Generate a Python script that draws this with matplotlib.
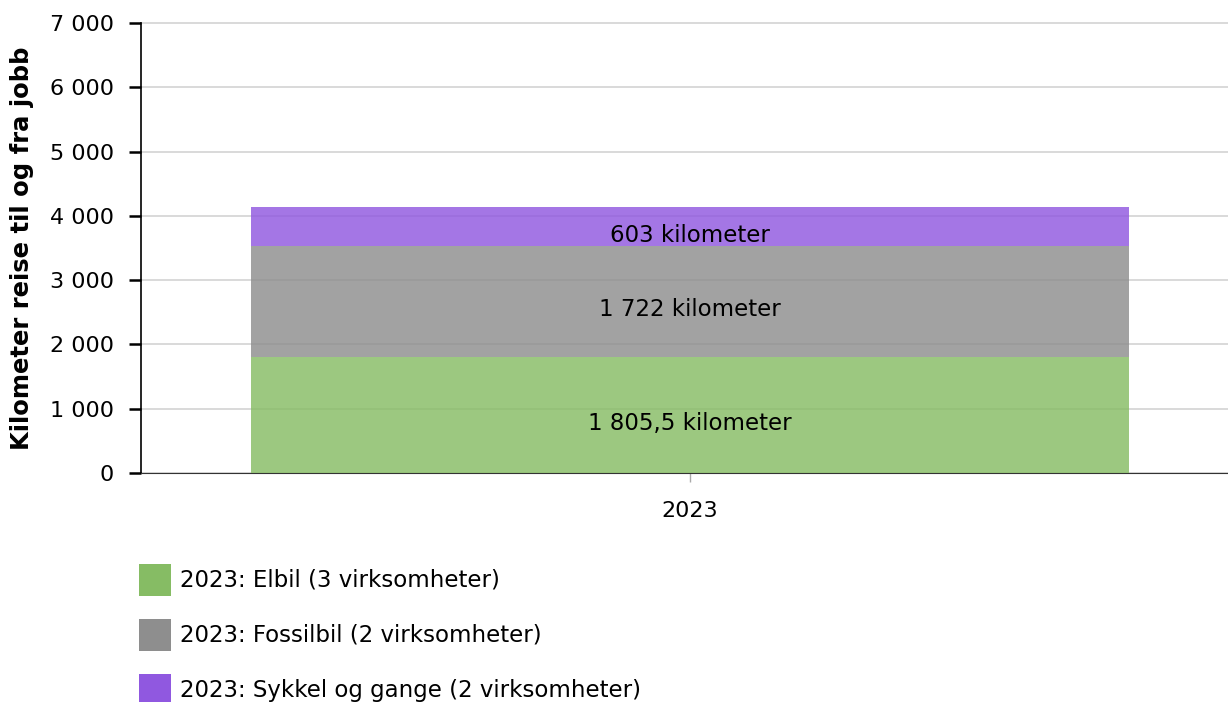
import matplotlib
matplotlib.use("Agg")
import matplotlib.pyplot as plt
from matplotlib.patches import Rectangle

categories = ["2023"]
series_names = ["2023: Elbil (3 virksomheter)",
                "2023: Fossilbil (2 virksomheter)",
                "2023: Sykkel og gange (2 virksomheter)"]
values = [1805.5, 1722, 603]
labels = ["1 805,5 kilometer", "1 722 kilometer", "603 kilometer"]
colors = ["#86bc64", "#8e8e8e", "#9058e0"]
yticks = [0, 1000, 2000, 3000, 4000, 5000, 6000, 7000]
ytick_labels = ["0", "1 000", "2 000", "3 000", "4 000", "5 000", "6 000", "7 000"]

plt.rcParams['font.family'] = ['DejaVu Sans']
W, H = 1228, 702
fig = plt.figure(figsize=(W/100, H/100), dpi=100)
ax = fig.add_axes([141/W, 1-473/H, (1228-141)/W, (473-23)/H])

bottom = 0
for v, lab, c in zip(values, labels, colors):
    ax.bar(0, v, width=0.8, bottom=bottom, color=c, alpha=0.82, zorder=3, linewidth=0)
    ax.annotate(lab, (0, bottom + v/2), xytext=(0, -6), textcoords="offset points",
                ha="center", va="center", fontsize=16.5, color="black", zorder=4)
    bottom += v

ax.set_ylim(0, 7000)
ax.set_xlim(-0.5, 0.49)
ax.set_yticks(yticks)
ax.set_yticklabels(ytick_labels, fontsize=16)
ax.set_xticks([0])
ax.set_xticklabels(categories, fontsize=16)
ax.yaxis.grid(True, color="#d9d9d9", linewidth=1.4, zorder=0, clip_on=False)
ax.set_axisbelow(True)
for s in ["top", "right"]:
    ax.spines[s].set_visible(False)
ax.spines["left"].set_color("black")
ax.spines["left"].set_linewidth(1.2)
ax.spines["bottom"].set_color("#333333")
ax.tick_params(axis="y", length=8.5, width=1.8, color="black", pad=11)
ax.tick_params(axis="x", length=6.5, width=1, color="#aaaaaa", pad=14)
ax.set_ylabel("Kilometer reise til og fra jobb", fontsize=17.5, fontweight="bold")
ax.yaxis.set_label_coords(-(141-34)/(1228-141), 0.5)

# legend
leg_y = [580, 635, 690]
for y, name, c in zip(leg_y, series_names, colors):
    fig.patches.append(Rectangle((139/W, 1-(y+16)/H), 32/W, 32/H, transform=fig.transFigure,
                                 facecolor=c, edgecolor="none"))
    fig.text(180/W, 1-y/H, name, fontsize=16.5, va="center", ha="left")

fig.savefig("out.png", dpi=100)
